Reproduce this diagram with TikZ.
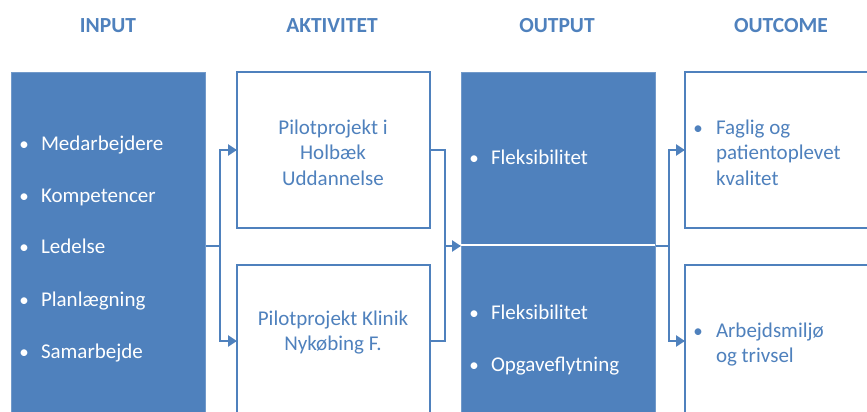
\documentclass[tikz,border=0pt]{standalone}
\usepackage{fontspec}
\setmainfont{Carlito}
\usetikzlibrary{arrows.meta}
\definecolor{lmblue}{RGB}{79,129,189}
\begin{document}
\begin{tikzpicture}[x=1pt,y=-1pt,
  every node/.style={inner sep=0pt,outer sep=0pt},
  boxarea/.style={anchor=north west},
  bluebox/.style={fill=lmblue,draw=lmblue!80!white,line width=0.8pt},
  linebox/.style={fill=white,draw=lmblue,line width=2.8pt},
  head/.style={font=\fontsize{21.5}{24}\selectfont\bfseries,text=lmblue,anchor=base},
  wtxt/.style={font=\fontsize{21}{25.5}\selectfont,text=white,anchor=base west},
  btxt/.style={font=\fontsize{21}{25.5}\selectfont,text=lmblue,anchor=base west},
  ctxt/.style={font=\fontsize{21}{25.5}\selectfont,text=lmblue,anchor=base},
  wdot/.style={font=\fontsize{19}{25.5}\selectfont,text=white,anchor=base},
  bdot/.style={font=\fontsize{19}{25.5}\selectfont,text=lmblue,anchor=base},
  conn/.style={draw=lmblue,line width=2.8pt},
  arr/.style={conn,-{Triangle[length=9pt,width=11pt]}}]
\clip (0,0) rectangle (867,412);
\fill[white] (0,0) rectangle (867,412);

% column headings
\node[head] (hin)  at (108,33) {INPUT};
\node[head] (hakt) at (332,33) {AKTIVITET};
\node[head] (hout) at (557,33) {OUTPUT};
\node[head] (hoc)  at (781,33) {OUTCOME};

% junction points of the connectors
\coordinate (j1) at (220,246);
\coordinate (j2) at (445,246);
\coordinate (j3) at (669,246);

% box areas (drawn after the connectors)
\node[boxarea,minimum width=194pt,minimum height=345pt] (in)   at (11,72)  {};
\node[boxarea,minimum width=193pt,minimum height=156pt] (akt1) at (237,72) {};
\node[boxarea,minimum width=193pt,minimum height=152pt] (akt2) at (237,265) {};
\node[boxarea,minimum width=194pt,minimum height=173pt] (out1) at (461,72) {};
\node[boxarea,minimum width=194pt,minimum height=171pt] (out2) at (461,246) {};
\node[boxarea,minimum width=200pt,minimum height=156pt] (oc1)  at (685,72) {};
\node[boxarea,minimum width=200pt,minimum height=152pt] (oc2)  at (685,265) {};

% connectors
\draw[conn] (in.east |- j1) -- (j1);
\draw[arr] (j1) |- (akt1.west);
\draw[arr] (j1) |- (akt2.west);
\draw[conn] (akt1.east) -| (j2) |- (akt2.east);
\draw[arr] (j2) -- (out1.west |- j2);
\draw[conn] (out1.east |- j3) -- (j3);
\draw[arr] (j3) |- (oc1.west);
\draw[arr] (j3) |- (oc2.west);

% boxes drawn on top
\draw[bluebox] (in.north west) rectangle (in.south east);
\draw[linebox] (akt1.north west) rectangle (akt1.south east);
\draw[linebox] (akt2.north west) rectangle (akt2.south east);
\draw[bluebox] (out1.north west) rectangle (out2.south east);
\draw[white,line width=2.5pt] (out1.south west) -- (out1.south east);
\draw[linebox] (oc1.north west) rectangle (oc1.south east);
\draw[linebox] (oc2.north west) rectangle (oc2.south east);

% input list
\foreach \t/\y [count=\i] in {Medarbejdere/150,Kompetencer/202,Ledelse/253,Planlægning/306,Samarbejde/358}{
  \node[wdot] (ind\i) at (24,\y) {•};
  \node[wtxt] (int\i) at (41,\y) {\t};
}

% activities
\node[ctxt] (a1) at (333,134) {Pilotprojekt i};
\node[ctxt] (a2) at (333,159.5) {Holbæk};
\node[ctxt] (a3) at (333,185) {Uddannelse};
\node[ctxt] (a4) at (333,325) {Pilotprojekt Klinik};
\node[ctxt] (a5) at (333,350) {Nykøbing F.};

% output lists
\node[wdot] (o1d) at (474,164) {•};
\node[wtxt] (o1t) at (491,164) {Fleksibilitet};
\node[wdot] (o2d) at (474,319) {•};
\node[wtxt] (o2t) at (491,319) {Fleksibilitet};
\node[wdot] (o3d) at (474,371) {•};
\node[wtxt] (o3t) at (491,371) {Opgaveflytning};

% outcome lists
\node[bdot] (c1d) at (698,134) {•};
\node[btxt] (c1a) at (716,134) {Faglig og};
\node[btxt] (c1b) at (716,159.5) {patientoplevet};
\node[btxt] (c1c) at (716,185) {kvalitet};
\node[bdot] (c2d) at (698,337) {•};
\node[btxt] (c2a) at (716,337) {Arbejdsmiljø};
\node[btxt] (c2b) at (716,362) {og trivsel};
\end{tikzpicture}
\end{document}
